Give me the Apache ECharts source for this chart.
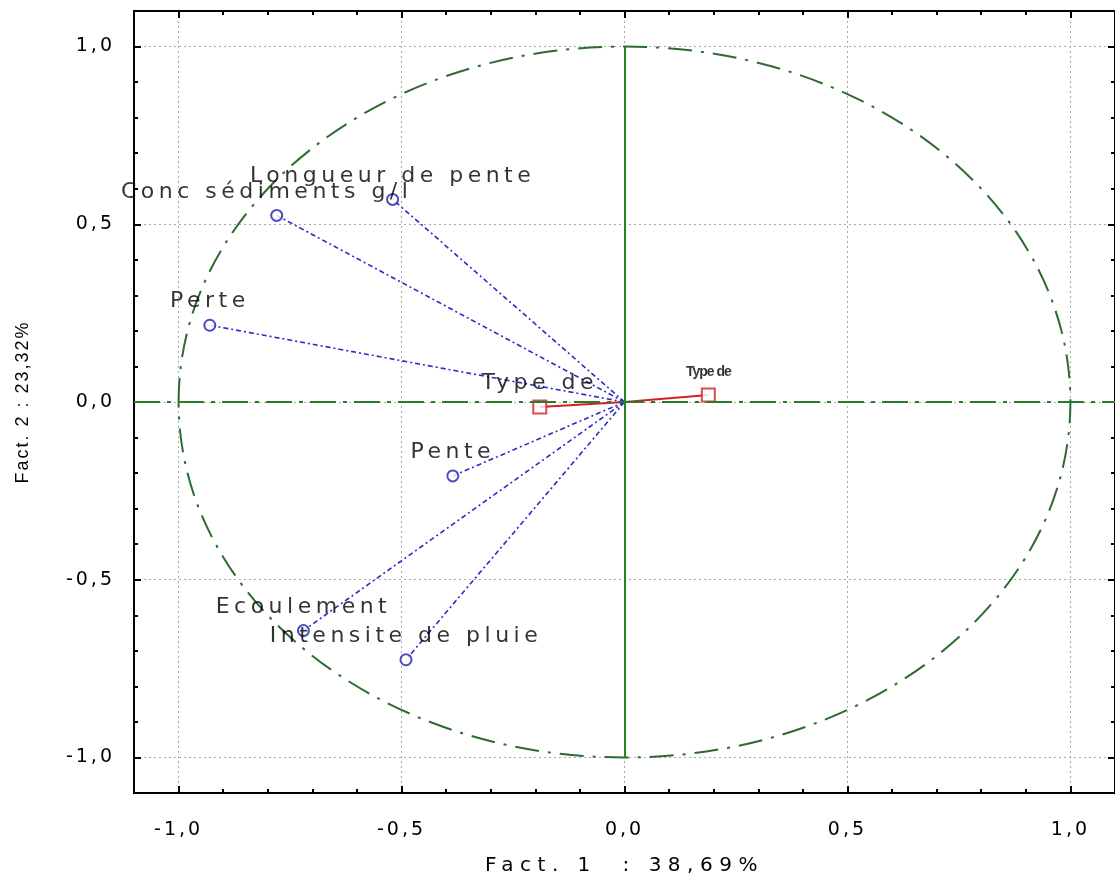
<!DOCTYPE html>
<html><head><meta charset="utf-8">
<script src="https://cdn.jsdelivr.net/npm/echarts@6/dist/echarts.min.js"></script>
<style>html,body{margin:0;padding:0;background:#fff}#c{width:1115px;height:881px}</style>
</head><body><div id="c"></div>
<script>
// ---- data ----
const activeNames = ['Longueur de pente', 'Conc sédiments g/l', 'Perte', 'Pente', 'Ecoulement', 'Intensite de pluie'];
const activeX = [-0.52, -0.78, -0.93, -0.385, -0.72, -0.49];
const activeY = [0.57, 0.525, 0.216, -0.208, -0.643, -0.725];
const suppNames = ['Type de', 'Type de'];
const suppX = [-0.19, 0.188];
const suppY = [-0.014, 0.02];
const tickValues = [-1.0, -0.5, 0.0, 0.5, 1.0];
const tickLabels = ['-1,0', '-0,5', '0,0', '0,5', '1,0'];
const axisMin = -1.1, axisMax = 1.1, minorStep = 0.1;
const circleRadius = [1];
const xTitle = 'Fact. 1  : 38,69%';
const yTitle = 'Fact. 2 : 23,32%';

// letter spacing to mimic the spaced bitmap font of the original
(function () {
  const proto = CanvasRenderingContext2D.prototype;
  const orig = proto.fillText;
  const map = { 22: '4.5px', 19: '3px', 20: '6.5px', 18: '2px', 14: '-1px' };
  proto.fillText = function (t, x, y, mw) {
    const m = /(\d+(?:\.\d+)?)px/.exec(this.font);
    const ls = m && map[Math.round(parseFloat(m[1]))];
    try { this.letterSpacing = ls || '0px'; } catch (e) {}
    return mw === undefined ? orig.call(this, t, x, y) : orig.call(this, t, x, y, mw);
  };
})();

const FONT = 'DejaVu Sans';
const fmt = v => {
  const i = tickValues.findIndex(t => Math.abs(t - v) < 1e-6);
  return i >= 0 ? tickLabels[i] : '';
};

function majorAxis(pos, withLabels, extra) {
  const vertical = pos === 'left' || pos === 'right';
  return Object.assign({
    type: 'value', position: pos, min: axisMin, max: axisMax,
    axisLine: { show: false, onZero: false },
    axisTick: { show: true, inside: true, length: 7, customValues: tickValues, lineStyle: { color: '#000', width: 2 } },
    axisLabel: withLabels ? { show: true, customValues: tickValues, formatter: fmt, color: '#000', fontSize: 19, fontFamily: FONT, margin: vertical ? 19 : 28 } : { show: false },
    splitLine: { show: false }
  }, extra || {});
}
function minorAxis(pos) {
  return {
    type: 'value', position: pos, min: axisMin, max: axisMax, interval: minorStep,
    axisLine: { show: false, onZero: false },
    axisTick: { show: true, inside: true, length: 4, lineStyle: { color: '#000', width: 2 } },
    axisLabel: { show: false }, splitLine: { show: false }
  };
}
const gridLine = { show: true, lineStyle: { color: '#a8a8a8', width: 1, type: [2, 3] } };

const activeData = activeNames.map((n, i) => ({ name: n, value: [activeX[i], activeY[i]] }));
const activeLines = activeNames.map((n, i) => ({ coords: [[0, 0], [activeX[i], activeY[i]]] }));
const suppData = suppNames.map((n, i) => ({ name: n, value: [suppX[i], suppY[i]] }));
const suppLines = suppNames.map((n, i) => ({ coords: [[0, 0], [suppX[i], suppY[i]]] }));
// label placement tweaks (styles only)
activeData[1].label = { offset: [-10, 0] };
// second supplementary label is a smeared overlapped label in the original
suppData[1].label = { fontSize: 14, fontWeight: 'bold', distance: 8, fontFamily: 'Liberation Sans' };

const chart = echarts.init(document.getElementById('c'), null, { renderer: 'canvas' });
chart.setOption({
  animation: false,
  backgroundColor: '#fff',
  grid: { left: 134, top: 11, width: 984, height: 782, show: true, borderColor: '#000', borderWidth: 2, backgroundColor: '#fff' },
  xAxis: [
    majorAxis('bottom', true, {
      name: xTitle, nameLocation: 'middle', nameGap: 63,
      nameTextStyle: { color: '#000', fontSize: 20, fontFamily: FONT },
      splitLine: gridLine
    }),
    minorAxis('bottom'),
    majorAxis('top', false),
    minorAxis('top')
  ],
  yAxis: [
    majorAxis('left', true, {
      name: yTitle, nameLocation: 'middle', nameGap: 102,
      nameTextStyle: { color: '#000', fontSize: 18, fontFamily: 'Liberation Sans' },
      splitLine: gridLine
    }),
    minorAxis('left'),
    majorAxis('right', false),
    minorAxis('right')
  ],
  series: [
    {
      type: 'custom', xAxisIndex: 0, yAxisIndex: 0, silent: true, z: 2,
      data: circleRadius.map(r => [r]),
      encode: { x: -1, y: -1 },
      renderItem: (params, api) => {
        const r = api.value(0);
        const c = api.coord([0, 0]);
        const e = api.coord([r, -r]);
        return {
          type: 'ellipse',
          shape: { cx: c[0], cy: c[1], rx: e[0] - c[0], ry: e[1] - c[1] },
          style: { fill: null, stroke: '#2f6a2f', lineWidth: 2, lineDash: [24, 9, 3, 9] }
        };
      },
      markLine: {
        silent: true, symbol: 'none', label: { show: false },
        data: [
          { yAxis: 0, lineStyle: { color: '#2a7a2a', width: 2, type: [26, 7, 4, 7] } },
          [{ coord: [0, circleRadius[0]] }, { coord: [0, -circleRadius[0]], lineStyle: { color: '#1f8a1f', width: 2, type: 'solid' } }]
        ],
        lineStyle: { color: '#1f8a1f', width: 2, type: 'solid' }
      }
    },
    {
      type: 'lines', coordinateSystem: 'cartesian2d', xAxisIndex: 0, yAxisIndex: 0, z: 3,
      data: activeLines, symbol: 'none',
      lineStyle: { color: '#2a2ac8', width: 1.6, type: [5, 3, 2, 3], opacity: 1 }
    },
    {
      type: 'lines', coordinateSystem: 'cartesian2d', xAxisIndex: 0, yAxisIndex: 0, z: 3,
      data: suppLines, symbol: 'none',
      lineStyle: { color: '#d42020', width: 2, type: 'solid', opacity: 1 }
    },
    {
      type: 'scatter', xAxisIndex: 0, yAxisIndex: 0, z: 4,
      data: activeData, symbol: 'emptyCircle', symbolSize: 11,
      itemStyle: { color: '#2020b0', borderWidth: 2 },
      label: { show: true, position: 'top', distance: 6, formatter: p => p.name, color: '#000', fontSize: 22, fontFamily: FONT }
    },
    {
      type: 'scatter', xAxisIndex: 0, yAxisIndex: 0, z: 4,
      data: suppData, symbol: 'emptyRect', symbolSize: 13,
      itemStyle: { color: '#d42020', borderWidth: 2 },
      label: { show: true, position: 'top', distance: 5, formatter: p => p.name, color: '#000', fontSize: 22, fontFamily: FONT }
    }
  ]
});
</script>
</body></html>
